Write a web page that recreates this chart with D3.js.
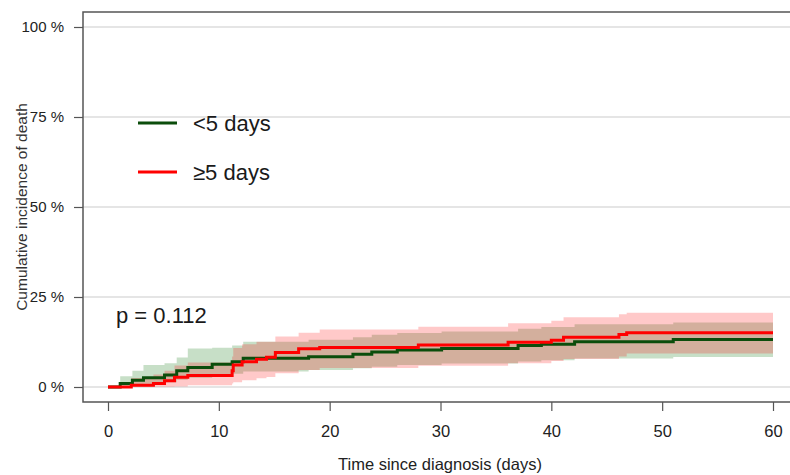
<!DOCTYPE html>
<html>
<head>
<meta charset="utf-8">
<script src="https://cdn.jsdelivr.net/npm/d3@7"></script>
<style>
  body { margin: 0; background: #fff; }
  svg { display: block; font-family: "Liberation Sans", Arial, sans-serif; }
</style>
</head>
<body>
<div class="canvas"></div>
<script>
// <5 days group
const shortTime = [0, 1.1, 2.2, 3.2, 5.1, 6.2, 7.2, 9.4, 11.2, 12.2, 18.1, 22.1, 23.8, 26.1, 30.1, 37, 39.1, 42.1, 51]
const shortEst  = [0, 1.0, 1.9, 2.6, 3.3, 4.5, 5.4, 6.3, 7.0, 8.0, 8.4, 9.1, 9.7, 10.3, 10.7, 11.5, 11.9, 12.6, 13.2]
const shortLo   = [0, 0.2, 0.5, 0.9, 1.3, 2.0, 2.6, 3.2, 3.7, 4.3, 4.7, 5.2, 5.6, 6.1, 6.5, 7.1, 7.4, 7.9, 8.3]
const shortHi   = [0, 3.0, 4.5, 6.1, 6.6, 8.2, 10.7, 10.9, 11.5, 12.6, 13.1, 13.8, 14.5, 15.0, 15.4, 16.2, 16.7, 17.4, 17.9]

// >=5 days group
const longTime = [0, 2.1, 4.1, 5.1, 6.0, 7.2, 11.2, 11.3, 12.1, 13.4, 14.3, 15.1, 17.2, 19.1, 28, 36.1, 40, 41.1, 46.1, 46.8]
const longEst  = [0, 0.5, 1.0, 1.75, 2.7, 3.2, 4.5, 6.1, 7.0, 7.7, 8.25, 9.6, 10.6, 11.0, 11.7, 12.4, 13.0, 13.8, 14.6, 15.1]
const longLo   = [0, 0, 0.05, 0.1, 0.15, 0.5, 1.0, 1.3, 1.9, 2.4, 2.8, 3.8, 4.7, 5.3, 5.9, 6.6, 7.2, 7.8, 8.5, 9.3]
const longHi   = [0, 2.5, 3.5, 4.5, 6.0, 6.8, 8.5, 10.8, 11.9, 12.6, 12.6, 14.0, 15.1, 16.0, 16.75, 17.7, 18.4, 19.4, 20.2, 20.6]

const endTime = 60
const xTicks = [0, 10, 20, 30, 40, 50, 60]
const yTicks = [0, 25, 50, 75, 100]
const groupNames = ['<5 days', '\u22655 days']

const width = 790
const height = 475
const box = {left: 83, top: 12, bottom: 402, right: 800}

const x = d3.scaleLinear().domain([0, 60]).range([108, 773])
const y = d3.scaleLinear().domain([0, 100]).range([387, 27])

const svg = d3.select('.canvas')
  .append('svg')
  .attr('width', width)
  .attr('height', height)

// grid lines
svg.append('g')
  .selectAll('line')
  .data(yTicks)
  .join('line')
  .attr('x1', box.left)
  .attr('x2', box.right)
  .attr('y1', d => y(d))
  .attr('y2', d => y(d))
  .attr('stroke', '#dcdcdc')
  .attr('stroke-width', 1.5)

function toRows(time, est, lo, hi) {
  const rows = time.map((t, i) => ({t, est: est[i], lo: lo[i], hi: hi[i]}))
  const last = rows[rows.length - 1]
  rows.push({...last, t: endTime})
  return rows
}

const groups = [
  {name: groupNames[0], rows: toRows(shortTime, shortEst, shortLo, shortHi), line: '#0b4d0b', band: 'rgb(0,110,0)', bandOpacity: 0.22},
  {name: groupNames[1], rows: toRows(longTime, longEst, longLo, longHi), line: '#ff0000', band: 'rgb(255,0,0)', bandOpacity: 0.21}
]

const band = d3.area()
  .curve(d3.curveStepAfter)
  .x(d => x(d.t))
  .y0(d => y(d.lo))
  .y1(d => y(d.hi))

const curve = d3.line()
  .curve(d3.curveStepAfter)
  .x(d => x(d.t))
  .y(d => y(d.est))

groups.forEach(g => {
  svg.append('path')
    .attr('d', band(g.rows))
    .attr('fill', g.band)
    .attr('fill-opacity', g.bandOpacity)
})

groups.forEach(g => {
  svg.append('path')
    .attr('d', curve(g.rows))
    .attr('fill', 'none')
    .attr('stroke', g.line)
    .attr('stroke-width', 3)
})

// frame
svg.append('path')
  .attr('d', `M${box.right},${box.top}H${box.left}V${box.bottom}H${box.right}`)
  .attr('fill', 'none')
  .attr('stroke', '#555')
  .attr('stroke-width', 1.5)

// axes
const yAxis = svg.append('g')
  .attr('transform', `translate(${box.left},0)`)
  .call(d3.axisLeft(y).tickValues(yTicks).tickSize(9).tickPadding(10).tickFormat(d => `${d} %`))
yAxis.select('.domain').remove()
yAxis.selectAll('line').attr('stroke', '#555').attr('stroke-width', 1.2)
yAxis.selectAll('text')
  .attr('font-family', '"Liberation Sans", Arial, sans-serif')
  .attr('font-size', 15)
  .attr('fill', '#222')

const xAxis = svg.append('g')
  .attr('transform', `translate(0,${box.bottom})`)
  .call(d3.axisBottom(x).tickValues(xTicks).tickSize(9).tickPadding(14))
xAxis.select('.domain').remove()
xAxis.selectAll('line').attr('stroke', '#555').attr('stroke-width', 1.2)
xAxis.selectAll('text')
  .attr('font-family', '"Liberation Sans Narrow", "Liberation Sans", Arial, sans-serif')
  .attr('font-size', 16.5)
  .attr('fill', '#222')

svg.append('text')
  .attr('x', 440)
  .attr('y', 470)
  .attr('text-anchor', 'middle')
  .attr('font-family', '"Liberation Sans Narrow", "Liberation Sans", Arial, sans-serif')
  .attr('font-size', 16.5)
  .attr('fill', '#222')
  .text('Time since diagnosis (days)')

svg.append('text')
  .attr('transform', 'translate(27,207) rotate(-90)')
  .attr('text-anchor', 'middle')
  .attr('font-size', 15.5)
  .attr('fill', '#333')
  .text('Cumulative incidence of death')

// legend
const legend = svg.append('g')
  .attr('transform', 'translate(138,123)')
const items = legend.selectAll('g')
  .data(groups)
  .join('g')
  .attr('transform', (d, i) => `translate(0,${i * 49})`)
items.append('line')
  .attr('x1', 0)
  .attr('x2', 39)
  .attr('stroke', d => d.line)
  .attr('stroke-width', 3)
items.append('text')
  .attr('x', 55)
  .attr('y', 8)
  .attr('font-size', 22)
  .attr('fill', '#1a1a1a')
  .text(d => d.name)

svg.append('text')
  .attr('x', 116)
  .attr('y', 323)
  .attr('font-size', 22)
  .attr('fill', '#1a1a1a')
  .text('p = 0.112')
</script>
</body>
</html>
